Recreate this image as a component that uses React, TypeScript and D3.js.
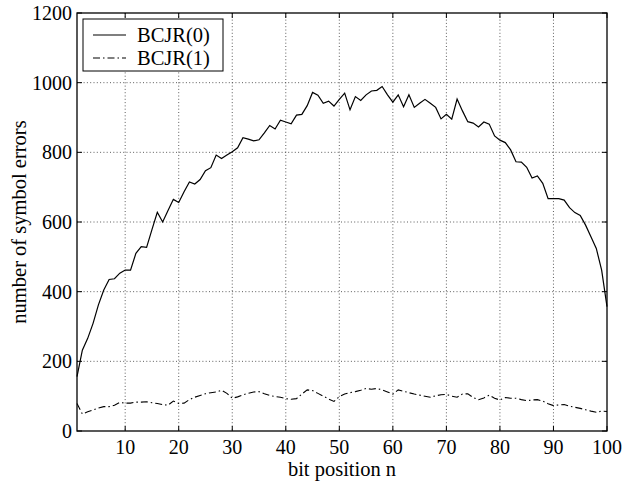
import React from 'react';
import * as d3 from 'd3';

// bit positions 1..100
const positions: number[] = d3.range(1, 101);

// BCJR(0) symbol errors per bit position
const bcjr0: number[] = [
  156, 232, 266, 309, 362, 405, 435, 437, 453, 462,
  462, 510, 529, 527, 578, 628, 600, 633, 665, 656,
  687, 715, 709, 722, 747, 756, 792, 782, 792, 802,
  813, 842, 838, 833, 836, 856, 877, 867, 892, 887,
  882, 907, 909, 934, 972, 964, 941, 947, 933, 952,
  970, 922, 960, 949, 965, 976, 978, 989, 965, 944,
  965, 931, 965, 929, 941, 952, 941, 929, 896, 909,
  895, 953, 919, 888, 884, 873, 887, 881, 847, 835,
  828, 807, 773, 772, 757, 726, 732, 711, 667, 667,
  667, 663, 641, 627, 619, 591, 558, 524, 462, 357,
];

// BCJR(1) symbol errors per bit position
const bcjr1: number[] = [
  79, 49, 55, 60, 66, 70, 70, 74, 82, 80,
  80, 83, 83, 84, 81, 79, 76, 74, 86, 79,
  80, 90, 97, 102, 107, 110, 112, 117, 108, 94,
  98, 104, 108, 112, 113, 107, 102, 99, 97, 93,
  91, 93, 106, 118, 116, 108, 100, 92, 85, 99,
  106, 110, 113, 117, 122, 120, 122, 118, 112, 106,
  118, 114, 110, 106, 103, 100, 97, 101, 104, 105,
  100, 97, 106, 107, 96, 90, 95, 103, 94, 89,
  96, 94, 94, 90, 87, 89, 90, 86, 78, 73,
  75, 76, 71, 68, 65, 61, 57, 54, 57, 56,
];

const xTicks: number[] = [10, 20, 30, 40, 50, 60, 70, 80, 90, 100];
const yTicks: number[] = [0, 200, 400, 600, 800, 1000, 1200];
const legendLabels: string[] = ['BCJR(0)', 'BCJR(1)'];

const W = 636;
const H = 487;
const left = 77;
const right = 607;
const top = 13;
const bottom = 431;
const font = '"Liberation Serif", "Times New Roman", serif';
const fs = 20;
const labelFs = 20.5;
const dashDot = '7 3 1.5 3';

export default function App() {
  const x = d3.scaleLinear().domain([1, 100]).range([left, right]);
  const y = d3.scaleLinear().domain([0, 1200]).range([bottom, top]);

  const mkLine = d3
    .line<number>()
    .x((d, i) => x(positions[i]))
    .y(d => y(d));

  const tick = 5;

  return (
    <svg
      xmlns="http://www.w3.org/2000/svg"
      width={W}
      height={H}
      viewBox={`0 0 ${W} ${H}`}
      style={{ position: 'absolute', left: 0, top: 0, background: '#fff' }}
      fontFamily={font}
      fontSize={fs}
    >
      <rect x={0} y={0} width={W} height={H} fill="#fff" />

      {/* dotted grid */}
      <g stroke="#333" strokeWidth={0.8} strokeDasharray="1 2.3">
        {xTicks.filter(t => t < 100).map(t => (
          <line key={'gx' + t} x1={x(t)} x2={x(t)} y1={top} y2={bottom} />
        ))}
        {yTicks.filter(t => t > 0 && t < 1200).map(t => (
          <line key={'gy' + t} x1={left} x2={right} y1={y(t)} y2={y(t)} />
        ))}
      </g>

      {/* inward ticks on all sides */}
      <g stroke="#000" strokeWidth={1}>
        {xTicks.map(t => (
          <g key={'tx' + t}>
            <line x1={x(t)} x2={x(t)} y1={bottom} y2={bottom - tick} />
            <line x1={x(t)} x2={x(t)} y1={top} y2={top + tick} />
          </g>
        ))}
        {yTicks.map(t => (
          <g key={'ty' + t}>
            <line x1={left} x2={left + tick} y1={y(t)} y2={y(t)} />
            <line x1={right} x2={right - tick} y1={y(t)} y2={y(t)} />
          </g>
        ))}
      </g>

      {/* data */}
      <path d={mkLine(bcjr0) || ''} fill="none" stroke="#000" strokeWidth={1.2} />
      <path
        d={mkLine(bcjr1) || ''}
        fill="none"
        stroke="#000"
        strokeWidth={1.1}
        strokeDasharray={dashDot}
      />

      {/* axes box */}
      <rect
        x={left}
        y={top}
        width={right - left}
        height={bottom - top}
        fill="none"
        stroke="#000"
        strokeWidth={1.3}
      />

      {/* tick labels */}
      {xTicks.map(t => (
        <text key={'lx' + t} x={x(t)} y={454} textAnchor="middle">
          {t}
        </text>
      ))}
      {yTicks.map(t => (
        <text key={'ly' + t} x={left - 5} y={y(t)} dy="0.35em" textAnchor="end">
          {t}
        </text>
      ))}

      {/* axis labels */}
      <text x={(left + right) / 2} y={476} textAnchor="middle" fontSize={labelFs}>
        bit position n
      </text>
      <text
        transform={`translate(19,${(top + bottom) / 2}) rotate(-90)`}
        textAnchor="middle"
        dy="0.35em"
        fontSize={labelFs}
      >
        number of symbol errors
      </text>

      {/* legend */}
      <g>
        <rect x={83} y={19} width={140} height={52} fill="#fff" stroke="#000" strokeWidth={1} />
        {legendLabels.map((lab, i) => (
          <g key={lab} transform={`translate(0,${35 + i * 23})`}>
            <line
              x1={93}
              x2={126}
              y1={0}
              y2={0}
              stroke="#000"
              strokeWidth={1.2}
              strokeDasharray={i === 1 ? dashDot : undefined}
            />
            <text x={137} y={0} dy="0.35em" fontSize={labelFs}>
              {lab}
            </text>
          </g>
        ))}
      </g>
    </svg>
  );
}
